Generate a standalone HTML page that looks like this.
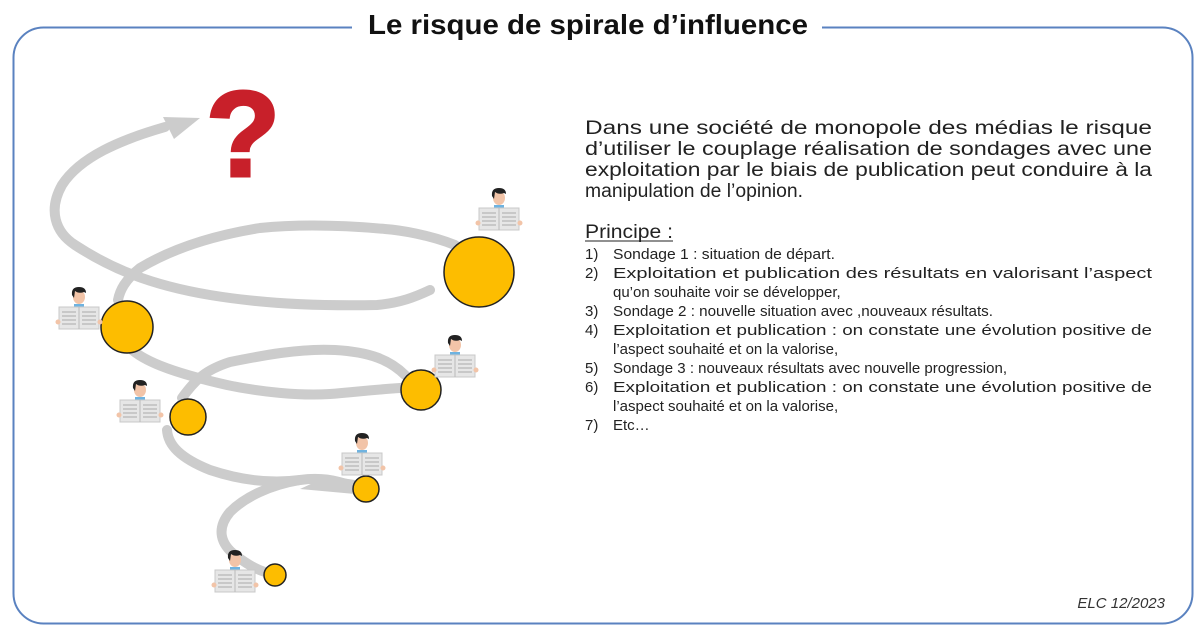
<!DOCTYPE html>
<html><head><meta charset="utf-8"><style>
html,body{margin:0;padding:0;background:#fff;}
svg{display:block;}
</style></head><body>
<svg width="1200" height="636" viewBox="0 0 1200 636" xmlns="http://www.w3.org/2000/svg">
<defs>
<g id="p">
<ellipse cx="0" cy="0" rx="6" ry="7" fill="#f2c4a8"/>
<path d="M-7,-2 Q-8,-10 0,-10 Q7,-10 7,-4 L5,-5 Q0,-3 -4,-6 L-5,1 Z" fill="#222"/>
<rect x="-5" y="7" width="10" height="5" fill="#6fb3e0"/>
<rect x="-20" y="10" width="40" height="22" fill="#e6e6e6" stroke="#c8c8c8" stroke-width="1"/>
<line x1="0" y1="10" x2="0" y2="32" stroke="#bbb"/>
<path d="M-17,15 h14 M-17,19 h14 M-17,23 h14 M-17,27 h14 M3,15 h14 M3,19 h14 M3,23 h14 M3,27 h14" stroke="#bdbdbd" stroke-width="1.5"/>
<circle cx="-21" cy="25" r="2.5" fill="#f2c4a8"/><circle cx="21" cy="25" r="2.5" fill="#f2c4a8"/>
</g>
</defs>
<rect x="13.5" y="27.5" width="1179" height="596" rx="30" fill="none" stroke="#5a82c0" stroke-width="2"/>
<rect x="352" y="10" width="470" height="34" fill="#fff"/>
<text x="588" y="34" text-anchor="middle" font-family="Liberation Sans, sans-serif" font-weight="bold" font-size="28" textLength="440" lengthAdjust="spacingAndGlyphs" fill="#111">Le risque de spirale d’influence</text>

<g fill="none" stroke="#cccccc" stroke-width="10" stroke-linecap="round" stroke-linejoin="round">
<path d="M165,127 C120,140 80,157 62,185 C48,210 55,232 75,245 C110,268 150,285 210,295 C270,305 330,306 377,305 C400,303 415,297 430,290"/>
<path d="M455,245 C430,235 400,230 385,229 C340,225 300,224 260,228 C210,236 170,250 140,268 C125,280 120,290 118,300"/>
<path d="M127,345 C140,360 170,372 227,385 C260,392 300,396 330,394 C355,392 370,390 400,388"/>
<path d="M405,375 C390,360 370,352 335,350 C300,348 260,356 230,362 C205,370 195,380 182,398"/>
<path d="M167,430 C168,445 180,458 210,470 C240,480 270,484 300,480 C320,477 335,480 352,486"/>
<path d="M300,480 C270,485 245,497 230,512 C215,530 222,545 235,555 C248,565 258,570 265,572"/>
</g>
<path d="M328,476 L355,480 L355,494 L300,489 Z" fill="#cccccc"/>
<polygon points="163,117 200,118 174,139" fill="#cccccc"/>

<g stroke="#222" stroke-width="1.5" fill="#fdbd00">
<circle cx="479" cy="272" r="35"/>
<circle cx="127" cy="327" r="26"/>
<circle cx="421" cy="390" r="20"/>
<circle cx="188" cy="417" r="18"/>
<circle cx="366" cy="489" r="13"/>
<circle cx="275" cy="575" r="11"/>
</g>

<text x="243" y="176" text-anchor="middle" font-family="Liberation Sans, sans-serif" font-weight="bold" font-size="122" fill="#c8202a" stroke="#c8202a" stroke-width="3">?</text>

<use href="#p" x="499" y="198"/>
<use href="#p" x="79" y="297"/>
<use href="#p" x="140" y="390"/>
<use href="#p" x="455" y="345"/>
<use href="#p" x="362" y="443"/>
<use href="#p" x="235" y="560"/>

<g font-family="Liberation Sans, sans-serif" fill="#222">
<g font-size="19">
<text x="585" y="134" textLength="567" lengthAdjust="spacingAndGlyphs">Dans une société de monopole des médias le risque</text>
<text x="585" y="155" textLength="567" lengthAdjust="spacingAndGlyphs">d’utiliser le couplage  réalisation de sondages avec une</text>
<text x="585" y="176" textLength="567" lengthAdjust="spacingAndGlyphs">exploitation par le biais de publication peut conduire à la</text>
<text x="585" y="197" textLength="218" lengthAdjust="spacingAndGlyphs">manipulation de l’opinion.</text>
<text x="585" y="238" textLength="88" lengthAdjust="spacingAndGlyphs">Principe :</text>
</g>
<line x1="585" y1="241" x2="673" y2="241" stroke="#222" stroke-width="1"/>
<g font-size="15">
<text x="585" y="259">1)</text><text x="613" y="259" textLength="222" lengthAdjust="spacingAndGlyphs">Sondage 1 : situation de départ.</text>
<text x="585" y="278">2)</text><text x="613" y="278" textLength="539" lengthAdjust="spacingAndGlyphs">Exploitation et publication des résultats en valorisant l’aspect</text>
<text x="613" y="297">qu’on souhaite voir se développer,</text>
<text x="585" y="316">3)</text><text x="613" y="316" textLength="380" lengthAdjust="spacingAndGlyphs">Sondage 2 : nouvelle situation avec ,nouveaux résultats.</text>
<text x="585" y="335">4)</text><text x="613" y="335" textLength="539" lengthAdjust="spacingAndGlyphs">Exploitation et publication : on constate une évolution positive de</text>
<text x="613" y="354">l’aspect souhaité et on la valorise,</text>
<text x="585" y="373">5)</text><text x="613" y="373" textLength="394" lengthAdjust="spacingAndGlyphs">Sondage 3 : nouveaux résultats avec nouvelle progression,</text>
<text x="585" y="392">6)</text><text x="613" y="392" textLength="539" lengthAdjust="spacingAndGlyphs">Exploitation et publication : on constate une évolution positive de</text>
<text x="613" y="411">l’aspect souhaité et on la valorise,</text>
<text x="585" y="430">7)</text><text x="613" y="430">Etc…</text>
</g>
<text x="1165" y="608" text-anchor="end" font-size="15" font-style="italic" fill="#333">ELC 12/2023</text>
</g>
</svg>
</body></html>
